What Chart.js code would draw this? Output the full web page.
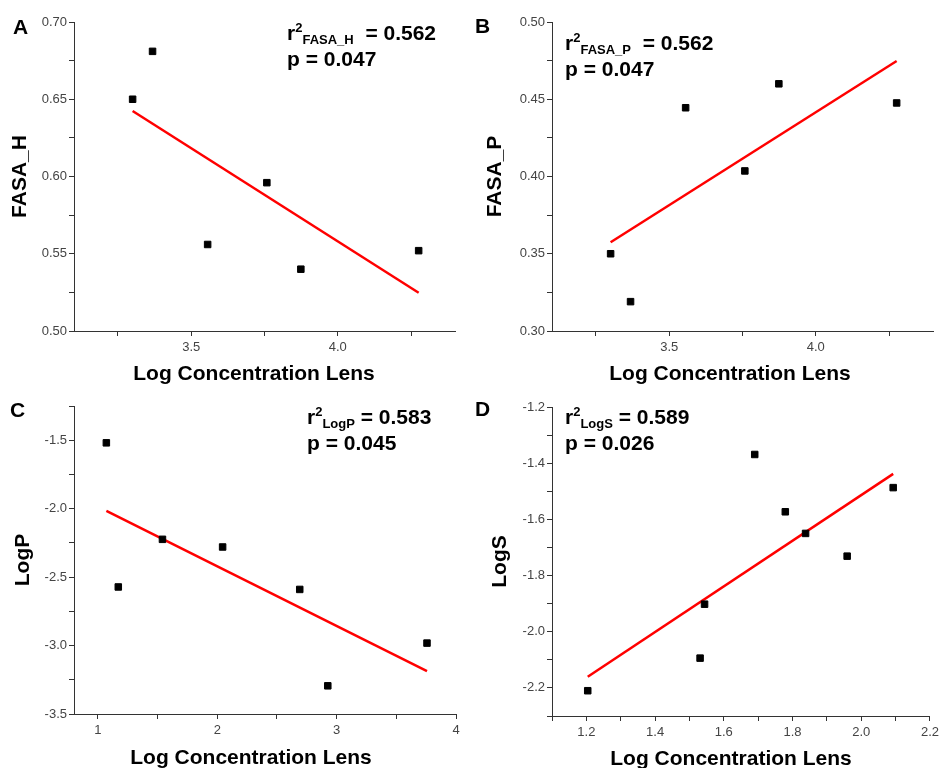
<!DOCTYPE html>
<html>
<head>
<meta charset="utf-8">
<script src="https://cdn.jsdelivr.net/npm/chart.js@4.4.1/dist/chart.umd.min.js"></script>
<style>
  html, body { margin: 0; padding: 0; background: #fff; overflow: hidden; }
  #wrap { position: relative; width: 943px; height: 768px; font-family: "Liberation Sans", Arial, sans-serif; color: #000; }
  canvas { position: absolute; }
  .letter { position: absolute; font-size: 21px; font-weight: bold; line-height: 21px; }
  .stat { position: absolute; font-size: 21px; font-weight: bold; line-height: 26px; white-space: nowrap; }
  .stat .sup, .stat .sub { font-size: 13px; line-height: 0; position: relative; }
  .stat .sup { top: -8px; }
  .stat .sub { top: 4px; }
  .xtitle { position: absolute; font-size: 21px; font-weight: bold; line-height: 21px; white-space: nowrap; transform: translateX(-50%); }
</style>
</head>
<body>
<div id="wrap">
  <canvas id="chartA" width="471" height="384" style="left:0;top:0"></canvas>
  <canvas id="chartB" width="465" height="384" style="left:478px;top:0"></canvas>
  <canvas id="chartC" width="471" height="384" style="left:0;top:384px"></canvas>
  <canvas id="chartD" width="465" height="384" style="left:478px;top:384px"></canvas>

  <div class="letter" style="left:13px;top:16px">A</div>
  <div class="letter" style="left:475px;top:15px">B</div>
  <div class="letter" style="left:10px;top:399px">C</div>
  <div class="letter" style="left:475px;top:398px">D</div>

  <div class="stat" style="left:287px;top:20px">r<span class="sup">2</span><span class="sub">FASA_H</span>&nbsp; = 0.562<br>p = 0.047</div>
  <div class="stat" style="left:565px;top:30px">r<span class="sup">2</span><span class="sub">FASA_P</span>&nbsp; = 0.562<br>p = 0.047</div>
  <div class="stat" style="left:307px;top:404px">r<span class="sup">2</span><span class="sub">LogP</span> = 0.583<br>p = 0.045</div>
  <div class="stat" style="left:565px;top:404px">r<span class="sup">2</span><span class="sub">LogS</span> = 0.589<br>p = 0.026</div>

  <div class="xtitle" style="left:254px;top:362px">Log Concentration Lens</div>
  <div class="xtitle" style="left:730px;top:362px">Log Concentration Lens</div>
  <div class="xtitle" style="left:251px;top:746px">Log Concentration Lens</div>
  <div class="xtitle" style="left:731px;top:747px">Log Concentration Lens</div>
</div>

<script>
// --- data ---
// A / B share the same x values
const lensFasa = [3.300, 3.368, 3.556, 3.758, 3.874, 4.276];
const fasaH = [0.650, 0.681, 0.556, 0.596, 0.540, 0.552];
const fasaP = [0.350, 0.319, 0.4445, 0.4036, 0.460, 0.4476];
const fitXFasa = [3.300, 4.276];
const fitFasaH = [0.6424, 0.5248];
const fitFasaP = [0.3574, 0.4748];

const lensLogP = [1.071, 1.171, 1.541, 2.045, 2.691, 2.926, 3.757];
const logP = [-1.519, -2.572, -2.224, -2.280, -2.590, -3.294, -2.982];
const fitXLogP = [1.071, 3.757];
const fitLogP = [-2.016, -3.187];

const lensLogS = [1.204, 1.531, 1.544, 1.690, 1.779, 1.838, 1.959, 2.093];
const logS = [-2.210, -2.094, -1.902, -1.369, -1.573, -1.650, -1.731, -1.487];
const fitXLogS = [1.204, 2.093];
const fitLogS = [-2.160, -1.438];

// --- ticks (empty label = minor tick) ---
const xTicksFasa = [3.25, 3.5, 3.75, 4.0, 4.25];
const xLabelsFasa = ['', '3.5', '', '4.0', ''];
const yTicksFasaH = [0.50, 0.525, 0.55, 0.575, 0.60, 0.625, 0.65, 0.675, 0.70];
const yLabelsFasaH = ['0.50', '', '0.55', '', '0.60', '', '0.65', '', '0.70'];
const yTicksFasaP = [0.30, 0.325, 0.35, 0.375, 0.40, 0.425, 0.45, 0.475, 0.50];
const yLabelsFasaP = ['0.30', '', '0.35', '', '0.40', '', '0.45', '', '0.50'];
const xTicksLogP = [1, 1.5, 2, 2.5, 3, 3.5, 4];
const xLabelsLogP = ['1', '', '2', '', '3', '', '4'];
const yTicksLogP = [-3.5, -3.25, -3.0, -2.75, -2.5, -2.25, -2.0, -1.75, -1.5, -1.25];
const yLabelsLogP = ['-3.5', '', '-3.0', '', '-2.5', '', '-2.0', '', '-1.5', ''];
const xTicksLogS = [1.1, 1.2, 1.3, 1.4, 1.5, 1.6, 1.7, 1.8, 1.9, 2.0, 2.1, 2.2];
const xLabelsLogS = ['', '1.2', '', '1.4', '', '1.6', '', '1.8', '', '2.0', '', '2.2'];
const yTicksLogS = [-2.3, -2.2, -2.1, -2.0, -1.9, -1.8, -1.7, -1.6, -1.5, -1.4, -1.3, -1.2];
const yLabelsLogS = ['', '-2.2', '', '-2.0', '', '-1.8', '', '-1.6', '', '-1.4', '', '-1.2'];

Chart.defaults.font.family = '"Liberation Sans", Arial, sans-serif';
Chart.defaults.animation = false;

function makePanel(id, p) {
    const axisColor = '#333';
    const pts = p.x.map((v, i) => ({ x: v, y: p.y[i] }));
    const fit = p.fitX.map((v, i) => ({ x: v, y: p.fitY[i] }));

    return new Chart(document.getElementById(id), {
        type: 'scatter',
        data: {
            datasets: [{
                data: pts,
                pointStyle: 'rect',
                pointRadius: 4.6,
                backgroundColor: '#000',
                borderColor: '#000',
                borderWidth: 1
            }, {
                data: fit,
                showLine: true,
                pointRadius: 0,
                borderColor: '#f00',
                borderWidth: 2.5
            }]
        },
        options: {
            responsive: false,
            devicePixelRatio: 1,
            layout: { padding: { left: 0, top: p.padTop, right: p.padRight, bottom: 0 } },
            plugins: { legend: { display: false }, tooltip: { enabled: false } },
            scales: {
                x: {
                    type: 'linear',
                    min: p.xMin, max: p.xMax,
                    afterBuildTicks: s => { s.ticks = p.xTicks.map(v => ({ value: v })); },
                    afterFit: s => { s.height = p.xHeight; },
                    grid: { drawOnChartArea: false, drawTicks: true, tickLength: 5, color: axisColor },
                    border: { display: true, color: axisColor, width: 1 },
                    ticks: {
                        autoSkip: false, maxRotation: 0, padding: 4,
                        color: '#444', font: { size: 13 },
                        callback: (v, i) => p.xLabels[i]
                    }
                },
                y: {
                    type: 'linear',
                    min: p.yMin, max: p.yMax,
                    afterBuildTicks: s => { s.ticks = p.yTicks.map(v => ({ value: v })); },
                    afterFit: s => { s.width = 74; },
                    grid: { drawOnChartArea: false, drawTicks: true, tickLength: 5, color: axisColor },
                    border: { display: true, color: axisColor, width: 1 },
                    ticks: {
                        autoSkip: false, padding: 2,
                        color: '#444', font: { size: 13 },
                        callback: (v, i) => p.yLabels[i]
                    },
                    title: {
                        display: true,
                        text: p.yTitle,
                        color: '#000',
                        font: { size: 21, weight: 'bold' },
                        padding: { top: p.titlePad, bottom: 0 }
                    }
                }
            }
        }
    });
}

makePanel('chartA', {
    x: lensFasa, y: fasaH, fitX: fitXFasa, fitY: fitFasaH,
    xMin: 3.1, xMax: 4.4, yMin: 0.50, yMax: 0.70,
    xTicks: xTicksFasa, xLabels: xLabelsFasa, yTicks: yTicksFasaH, yLabels: yLabelsFasaH,
    yTitle: 'FASA_H', titlePad: 8, padTop: 22, padRight: 16, xHeight: 53
});

makePanel('chartB', {
    x: lensFasa, y: fasaP, fitX: fitXFasa, fitY: fitFasaP,
    xMin: 3.1, xMax: 4.4, yMin: 0.30, yMax: 0.50,
    xTicks: xTicksFasa, xLabels: xLabelsFasa, yTicks: yTicksFasaP, yLabels: yLabelsFasaP,
    yTitle: 'FASA_P', titlePad: 5, padTop: 22, padRight: 10, xHeight: 53
});

makePanel('chartC', {
    x: lensLogP, y: logP, fitX: fitXLogP, fitY: fitLogP,
    xMin: 0.8, xMax: 4, yMin: -3.5, yMax: -1.25,
    xTicks: xTicksLogP, xLabels: xLabelsLogP, yTicks: yTicksLogP, yLabels: yLabelsLogP,
    yTitle: 'LogP', titlePad: 11, padTop: 22, padRight: 15, xHeight: 54
});

makePanel('chartD', {
    x: lensLogS, y: logS, fitX: fitXLogS, fitY: fitLogS,
    xMin: 1.1, xMax: 2.2, yMin: -2.3, yMax: -1.2,
    xTicks: xTicksLogS, xLabels: xLabelsLogS, yTicks: yTicksLogS, yLabels: yLabelsLogS,
    yTitle: 'LogS', titlePad: 9.5, padTop: 23, padRight: 10, xHeight: 52
});
</script>
</body>
</html>
